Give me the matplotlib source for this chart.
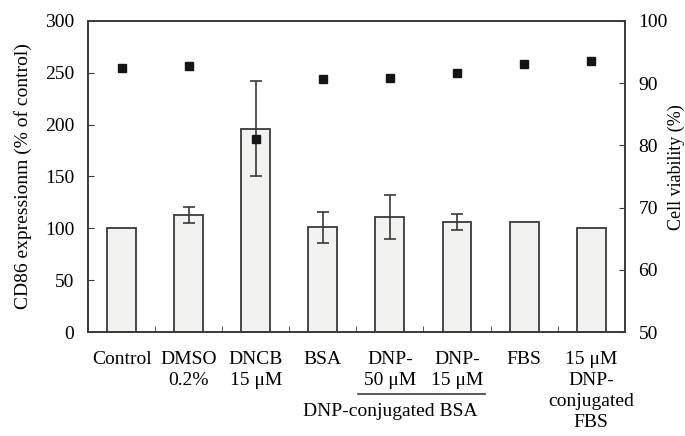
import matplotlib
matplotlib.use("Agg")
import matplotlib.pyplot as plt
import numpy as np

plt.rcParams['font.family'] = ['Liberation Serif', 'DejaVu Serif']

# data
groups = ["Control", "DMSO\n0.2%", "DNCB\n15 \u03bcM", "BSA", "DNP-\n50 \u03bcM",
          "DNP-\n15 \u03bcM", "FBS", "15 \u03bcM\nDNP-\nconjugated\nFBS"]
cd86 = [100, 113, 196, 101, 111, 106, 106, 100]
cd86_err = [0, 7.5, 46, 15, 21.5, 8, 0, 0]
viability = [92.4, 92.8, 81.0, 90.6, 90.9, 91.6, 93.0, 93.5]

x = np.arange(len(groups))
edge = '#3a3a3a'

fig = plt.figure(figsize=(6.85, 4.36), dpi=100)
ax = fig.add_axes([0.1285, 0.2385, 0.7835, 0.7135])

# bars with error bars where present
err = [e if e > 0 else np.nan for e in cd86_err]
ax.bar(x, cd86, width=0.43, facecolor='#f2f2f0', edgecolor=edge, linewidth=1.3, zorder=2)
ax.errorbar(x, cd86, yerr=err, fmt='none', ecolor=edge, elinewidth=1.2,
            capsize=4.5, capthick=1.2, zorder=3)

ax.set_xlim(-0.5, len(groups) - 0.5)
ax.set_ylim(0, 300)
ax.set_yticks(np.arange(0, 301, 50))
ax.set_xticks(x)
ax.set_xticklabels(groups, fontsize=14, linespacing=1.3)
ax.set_xticks(x[:-1] + 0.5, minor=True)
ax.tick_params(axis='x', which='major', length=0, pad=14)
ax.tick_params(axis='x', which='minor', direction='in', length=4, color=edge)
ax.tick_params(axis='y', direction='in', length=4, color=edge, labelsize=14, pad=10)
ax.set_ylabel("CD86 expressionm (% of control)", fontsize=14)
ax.yaxis.set_label_coords(-0.105, 0.5)
for s in ax.spines.values():
    s.set_color(edge)
    s.set_linewidth(1.2)

# viability on right axis
ax2 = ax.twinx()
ax2.plot(x, viability, 's', color='#151515', markersize=6, zorder=4)
ax2.set_ylim(50, 100)
ax2.set_yticks(np.arange(50, 101, 10))
ax2.tick_params(axis='y', direction='in', length=4, color=edge, labelsize=14, pad=10)
ax2.set_ylabel("Cell viability (%)", fontsize=13)
ax2.yaxis.set_label_coords(1.08, 0.53)
for s in ax2.spines.values():
    s.set_color(edge)
    s.set_linewidth(1.2)

# group bracket under DNP-conjugated BSA
trans = ax.get_xaxis_transform()
ax.plot([3.52, 5.42], [-0.2, -0.2], transform=trans, color=edge, lw=1.2, clip_on=False)
ax.text(4.0, -0.257, "DNP-conjugated BSA", transform=trans, ha='center', va='center', fontsize=14)

fig.savefig("out.png", dpi=100)
